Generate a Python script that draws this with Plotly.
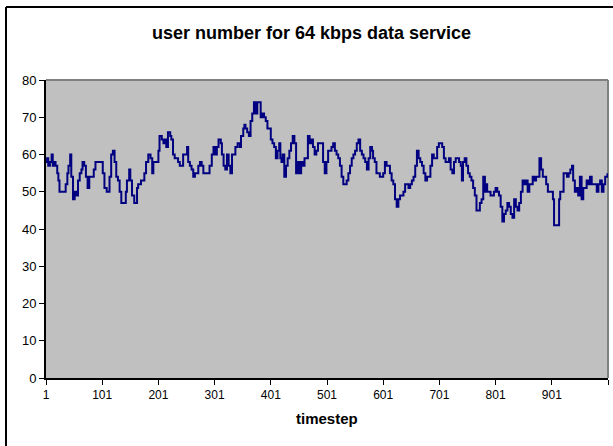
import plotly.graph_objects as go

# ---- data ----
timesteps = [
    1, 3, 5, 8, 11, 13, 16, 18, 21, 23, 25, 30, 35, 36, 39, 41, 44, 46, 49, 52, 55, 58, 61, 64, 66, 69,
    72, 75, 78, 81, 84, 86, 89, 93, 99, 102, 105, 109, 111, 114, 117, 120, 123, 126, 129, 132, 135, 141,
    143, 145, 149, 151, 154, 158, 163, 165, 170, 173, 176, 179, 183, 187, 190, 192,
    195, 201, 203, 207, 210, 213, 215, 218, 222, 224, 227, 230, 233, 236, 239, 242, 245, 248, 252, 254,
    257, 260, 263, 266, 269, 272, 275, 278, 281, 290, 292, 296, 299, 302, 305, 308, 312, 314, 317, 320,
    323, 326, 329, 332, 335, 338, 342, 346, 348, 352, 354, 356, 359, 362, 365, 368, 371, 374, 377, 380,
    383, 386, 389, 392, 395, 398, 401, 404, 407, 410, 413, 416, 418, 420, 422, 425, 428, 431, 434, 437,
    440, 443, 446, 449, 452, 455, 458, 461, 464, 467, 470, 473, 476, 479, 482, 485, 488, 491, 494, 497,
    500, 503, 506, 509, 512, 515, 518, 521, 524, 527, 530, 533, 536, 539, 542, 545, 548, 551, 554, 557,
    560, 563, 566, 569, 572, 575, 578, 581,
    583, 586, 589, 592, 595, 598, 601, 604, 607, 610, 613, 616, 619, 622, 625, 628, 631, 634, 637, 640,
    643, 646, 649, 652, 655, 658, 661, 664, 667, 670, 673, 676, 679, 682, 685, 688, 691, 694, 697, 700,
    703, 706, 709, 712, 715, 718, 721, 724, 727, 730, 733, 736, 739, 741, 743, 746, 749, 752, 755, 758,
    761, 764, 767, 770, 773, 776, 779, 782,
    783, 786, 789, 792, 795, 798, 801, 804, 807, 810, 813, 816, 819, 822, 825, 828, 831, 834, 837, 840,
    843, 846, 849, 852, 855, 858, 861, 864, 867, 870, 873, 876, 879, 882, 885, 888, 891, 894, 897, 900,
    903, 905, 909, 912, 914, 916, 919, 922, 925, 928, 931, 934, 937, 939, 942, 945, 948, 951, 954, 957,
    960, 963, 966, 969, 972, 975, 978, 981, 984, 987, 990, 993, 996, 1000,
]
users = [
    58, 59, 57, 58, 60, 57, 58, 57, 55, 53, 50, 50, 50, 52, 55, 57, 60, 54, 48, 50, 49, 53, 55, 56, 58, 57,
    54, 51, 54, 54, 54, 56, 58, 58, 58, 55, 51, 50, 50, 54, 60, 61, 58, 54, 53, 50, 47, 47,
    50, 53, 56, 53, 49, 47, 51, 52, 53, 53, 55, 58, 60, 59, 55, 58,
    58, 61, 65, 64, 63, 64, 62, 66, 65, 64, 60, 59, 59, 58, 57, 57, 60, 60, 62, 58,
    57, 56, 54, 55, 55, 57, 58, 57, 55, 55, 57, 60, 62, 60, 62, 64, 63, 60, 57, 56,
    60, 57, 55, 60, 60, 62, 63, 62, 65, 67, 68, 67, 66, 65, 69, 71, 74, 71, 74, 74,
    70, 71, 70, 69, 67, 67, 64, 63, 62, 59, 61, 63, 59, 58, 60, 54, 57, 59, 61, 63,
    65, 63, 55, 58, 55, 58, 57, 59, 59, 65, 63, 64, 62, 60, 61, 63, 63, 63, 58, 55,
    58, 61, 61, 62, 63, 61, 60, 59, 57, 54, 52, 52, 53, 55, 57, 59, 60, 61, 63, 64,
    61, 60, 59, 58, 56, 59, 62, 61,
    59, 58, 55, 55, 54, 54, 55, 58, 57, 57, 55, 53, 52, 48, 46, 48, 49, 49, 50, 52,
    52, 51, 52, 53, 54, 57, 61, 59, 58, 57, 55, 53, 54, 54, 57, 60, 59, 59, 62, 63,
    63, 62, 59, 58, 58, 59, 56, 55, 58, 59, 59, 58, 57, 53, 58, 59, 57, 55, 54, 53,
    51, 49, 45, 45, 47, 48, 54, 50,
    52, 50, 50, 49, 49, 50, 51, 50, 49, 46, 42, 44, 45, 47, 46, 44, 43, 48, 46, 45,
    47, 50, 53, 52, 53, 50, 52, 52, 54, 53, 54, 54, 59, 56, 54, 54, 52, 50, 50, 50,
    48, 41, 41, 41, 48, 50, 50, 55, 55, 54, 55, 56, 57, 53, 50, 51, 49, 54, 48, 51,
    51, 53, 52, 54, 52, 52, 52, 50, 52, 53, 50, 52, 54, 55,
]
x_tick_values = [1, 101, 201, 301, 401, 501, 601, 701, 801, 901, 1001]
x_tick_labels = ["1", "101", "201", "301", "401", "501", "601", "701", "801", "901", ""]
y_tick_values = [0, 10, 20, 30, 40, 50, 60, 70, 80]

title_text = "user number for 64 kbps data service"
x_title = "timestep"

FONT = "Liberation Sans, Arial, sans-serif"

fig = go.Figure()
fig.add_trace(go.Scatter(
    x=timesteps, y=users, mode="lines",
    line=dict(color="#000080", width=2, shape="hv"),
    showlegend=False, hoverinfo="skip",
))

W, H = 613, 446
L, R, T, B = 46, 5, 80, 68
pw, ph = W - L - R, H - T - B

fig.update_layout(
    width=W, height=H,
    margin=dict(l=L, r=R, t=T, b=B, pad=0),
    paper_bgcolor="white",
    plot_bgcolor="#C0C0C0",
    font=dict(family=FONT, color="black", size=13),
    title=dict(
        text="<b>" + title_text + "</b>",
        font=dict(family=FONT, size=18, color="black"),
        x=311.5 / W, xref="container", xanchor="center",
        y=1 - 33 / H, yref="container", yanchor="middle",
    ),
    xaxis=dict(
        range=[1, 1001], tickmode="array", tickvals=x_tick_values, ticktext=x_tick_labels,
        ticks="outside", ticklen=5, tickwidth=1, tickcolor="black",
        showline=True, linecolor="black", linewidth=2,
        showgrid=False, zeroline=False,
        tickfont=dict(family=FONT, size=12, color="black"),
    ),
    yaxis=dict(
        range=[0, 80], tickmode="array", tickvals=y_tick_values,
        ticks="outside", ticklen=5, tickwidth=1, tickcolor="black",
        showline=True, linecolor="black", linewidth=2,
        showgrid=False, zeroline=False,
        tickfont=dict(family=FONT, size=13, color="black"),
    ),
    annotations=[dict(
        text="<b>" + x_title + "</b>", xref="paper", yref="paper",
        x=0.5, y=(378 - 418) / ph, xanchor="center", yanchor="middle",
        showarrow=False, font=dict(family=FONT, size=15, color="black"),
    )],
    shapes=[
        # gray plot-area border (top and right)
        dict(type="line", xref="paper", yref="paper", x0=0, x1=1, y0=1, y1=1,
             line=dict(color="#808080", width=2), layer="below"),
        dict(type="line", xref="paper", yref="paper", x0=1, x1=1, y0=0, y1=1,
             line=dict(color="#808080", width=2), layer="below"),
        # outer chart frame (top and left visible)
        dict(type="line", xref="paper", yref="paper",
             x0=(6 - L) / pw, x1=1.2, y0=1 + (T - 7) / ph, y1=1 + (T - 7) / ph,
             line=dict(color="black", width=2)),
        dict(type="line", xref="paper", yref="paper",
             x0=(6 - L) / pw, x1=(6 - L) / pw, y0=1 + (T - 7) / ph, y1=-0.4,
             line=dict(color="black", width=2)),
    ],
)

# remove the browser's default 8px page margin so the figure sits at the window origin
fig.write_html(
    "out.html",
    config={"displayModeBar": False},
    post_script="document.body.style.margin='0';document.body.style.padding='0';",
)
